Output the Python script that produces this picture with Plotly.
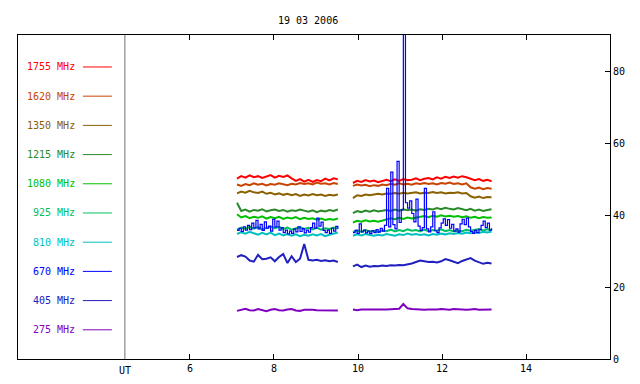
import plotly.graph_objects as go

# ---------------- data ----------------
title_text = "19 03 2006"
freqs = ["1755 MHz", "1620 MHz", "1350 MHz", "1215 MHz", "1080 MHz",
         "925 MHz", "810 MHz", "670 MHz", "405 MHz", "275 MHz"]
colors = ["#ff0000", "#c84400", "#8a6000", "#2a8a2a", "#00c000",
          "#00c060", "#00c0c0", "#0000ff", "#2020c0", "#8000c0"]

# time grids (UT hours)
seg1_start, seg2_start = 7.12, 9.88
step_coarse, step_fine = 0.1, 0.05

s1755_a = [50.2, 50.9, 50.5, 51.1, 50.6, 50.9, 50.4, 50.8, 51.2, 50.5, 51.0, 50.7, 51.1,
           50.3, 49.6, 50.1, 49.4, 49.9, 49.3, 49.8, 49.5, 50.2, 49.7, 50.3, 50.0]
s1755_b = [49.0, 49.6, 49.3, 49.8, 49.4, 49.7, 49.2, 49.6, 49.9, 49.5, 50.0, 49.6, 50.1,
           49.8, 49.9, 50.3, 49.8, 50.2, 50.4, 50.0, 50.6, 50.2, 50.7, 50.4, 50.8, 50.5,
           50.9, 50.6, 50.3, 49.8, 50.1, 49.6, 49.9, 49.5]

s1620_a = [48.6, 48.2, 48.7, 48.4, 48.9, 48.5, 48.8, 48.3, 48.7, 48.5, 48.9, 48.6, 48.4,
           48.8, 48.6, 49.0, 48.7, 48.9, 48.6, 49.1, 48.8, 48.9, 48.6, 49.0, 48.7]
s1620_b = [48.2, 48.6, 48.3, 48.5, 48.1, 48.4, 48.2, 48.6, 48.4, 48.8, 48.5, 48.9, 48.6,
           48.8, 48.5, 48.9, 48.7, 49.0, 48.7, 48.9, 48.6, 49.0, 48.8, 49.1, 48.7, 48.9,
           48.6, 48.9, 47.8, 47.4, 47.7, 47.3, 47.6, 47.4]

s1350_a = [46.1, 46.6, 46.3, 46.8, 46.4, 46.2, 46.6, 46.0, 46.3, 45.8, 46.1, 45.7, 46.0,
           45.6, 45.9, 45.4, 45.8, 45.5, 45.9, 45.6, 45.8, 45.4, 45.7, 45.5, 45.8]
s1350_b = [44.8, 45.6, 45.4, 45.8, 45.6, 45.9, 46.0, 45.8, 46.1, 46.0, 46.2, 46.0, 46.3,
           46.1, 46.2, 46.4, 46.1, 46.3, 46.2, 46.5, 46.2, 46.4, 46.1, 46.3, 46.2, 46.4,
           46.1, 46.2, 45.3, 44.9, 45.2, 44.8, 45.1, 45.0]

s1215_a = [43.5, 41.2, 41.6, 41.0, 41.5, 41.3, 41.7, 41.1, 41.4, 41.6, 41.2, 41.5, 41.0,
           41.4, 41.2, 41.6, 41.3, 41.0, 41.4, 40.9, 41.3, 41.1, 41.5, 41.2, 41.6]
s1215_b = [40.6, 41.2, 40.9, 41.3, 41.0, 41.4, 41.1, 41.3, 41.5, 41.2, 41.6, 41.3, 41.7,
           41.4, 41.6, 41.3, 41.7, 41.5, 41.8, 41.6, 42.0, 41.7, 42.1, 41.8, 41.6, 42.0,
           41.7, 41.4, 41.8, 41.3, 41.6, 41.2, 41.5, 41.7]

s1080_a = [40.3, 39.4, 39.8, 39.2, 39.6, 39.3, 39.7, 39.1, 39.5, 39.2, 39.6, 39.0, 39.4,
           39.1, 39.5, 38.9, 39.3, 39.0, 39.2, 38.8, 39.1, 38.7, 39.0, 38.8, 39.1]
s1080_b = [38.0, 38.5, 38.2, 38.6, 38.3, 38.5, 38.2, 38.6, 38.9, 39.2, 38.9, 39.3, 39.0,
           39.4, 39.1, 39.3, 39.6, 39.8, 39.5, 39.9, 39.6, 40.0, 39.7, 39.9, 39.6, 39.8,
           39.5, 39.7, 39.3, 39.6, 39.2, 39.5, 39.3, 39.4]

s925_a = [36.0, 36.6, 36.2, 36.8, 36.3, 36.7, 36.1, 36.5, 36.9, 36.4, 36.8, 36.2, 36.6,
          36.0, 36.4, 36.7, 36.2, 36.5, 36.1, 36.6, 36.0, 36.4, 36.2, 36.6, 36.3]
s925_b = [35.3, 35.8, 35.4, 35.9, 35.5, 35.7, 35.3, 35.8, 35.6, 36.0, 35.5, 35.9, 35.6,
          36.1, 35.7, 35.9, 35.5, 36.0, 35.6, 35.9, 35.7, 36.1, 35.6, 35.9, 35.5, 35.8,
          35.6, 36.0, 35.7, 35.9, 36.2, 35.8, 36.1, 35.9]

s810_a = [34.8, 35.3, 34.9, 35.4, 35.0, 34.6, 35.1, 34.7, 35.2, 34.5, 34.9, 34.4, 34.8,
          34.3, 34.7, 34.2, 34.6, 34.3, 34.7, 34.4, 34.8, 34.2, 34.6, 34.9, 35.2]
s810_b = [34.3, 34.7, 34.4, 34.8, 34.5, 34.3, 34.6, 34.4, 34.8, 34.5, 34.3, 34.7, 34.5,
          34.9, 34.6, 34.8, 34.5, 34.7, 34.4, 34.8, 34.6, 34.9, 34.7, 35.0, 34.8, 35.1,
          34.9, 35.2, 35.0, 35.3, 35.1, 35.4, 35.2, 35.5]

# 670 MHz on the fine grid (bursts)
s670_a = [35.8, 36.4, 35.5, 36.8, 35.9, 37.2, 36.0, 37.8, 36.5, 38.6, 36.2, 37.5, 35.8,
          38.2, 36.4, 37.0, 35.6, 38.9, 36.8, 38.4, 35.9, 36.6, 35.2, 35.9, 34.8, 35.6,
          35.0, 36.2, 35.4, 36.8, 35.5, 36.3, 35.1, 35.9, 35.3, 36.6, 37.8, 36.4, 39.2,
          37.0, 38.1, 35.8, 35.2, 35.9, 35.0, 36.4, 35.6, 36.9, 36.2]
s670_b = [35.2, 35.8, 35.0, 37.6, 35.4, 35.9, 35.1, 35.6, 34.9, 35.7, 35.2, 36.0, 35.3,
          36.4, 35.6, 37.2, 47.5, 36.8, 52.0, 37.4, 36.2, 55.0, 38.0, 41.5, 120.0, 43.5,
          42.0, 44.0, 40.5, 38.2, 44.5, 37.0, 35.8, 36.6, 47.5, 36.2, 35.4, 36.8, 41.0,
          35.7, 35.2, 36.5, 37.8, 39.0, 37.2, 38.8, 36.4, 37.5, 35.6, 36.2, 35.3, 37.6,
          38.9, 37.4, 39.2, 36.8, 35.5, 35.0, 35.8, 35.2, 36.0, 37.2, 38.4, 36.6, 37.8,
          35.9, 36.4]

s405_a = [28.4, 28.9, 28.5, 27.4, 27.1, 29.0, 27.8, 27.9, 28.3, 27.2, 28.4, 29.2, 26.7,
          28.6, 27.0, 27.9, 32.0, 27.6, 27.4, 27.6, 27.3, 27.5, 27.2, 27.4, 27.0]
s405_b = [25.8, 26.3, 25.6, 26.0, 25.7, 25.9, 25.8, 26.0, 25.9, 26.1, 26.0, 26.2, 26.1,
          26.3, 26.6, 27.0, 27.4, 27.2, 27.0, 27.1, 26.9, 27.2, 27.8, 27.5, 27.0, 26.7,
          27.3, 27.6, 28.1, 27.4, 26.9, 26.5, 26.8, 26.6]

s275_a = [13.4, 13.8, 14.0, 13.6, 13.5, 13.9, 13.6, 13.3, 13.7, 13.9, 13.6, 13.5, 13.8,
          13.9, 13.5, 13.4, 13.7, 13.8, 13.7, 13.6, 13.6, 13.7, 13.6, 13.6, 13.5]
s275_b = [13.8, 13.6, 13.8, 13.7, 13.8, 13.8, 13.7, 13.8, 13.8, 13.9, 13.8, 14.0, 15.3,
          14.1, 13.9, 13.8, 13.9, 13.7, 13.8, 13.7, 13.8, 13.9, 13.8, 13.7, 13.9, 13.8,
          13.6, 13.7, 13.8, 13.9, 13.7, 13.8, 13.7, 13.8]

series = [(s1755_a, s1755_b), (s1620_a, s1620_b), (s1350_a, s1350_b),
          (s1215_a, s1215_b), (s1080_a, s1080_b), (s925_a, s925_b),
          (s810_a, s810_b), (s670_a, s670_b), (s405_a, s405_b), (s275_a, s275_b)]

x_ticks = [6, 8, 10, 12, 14]
y_ticks = [0, 20, 40, 60, 80]
ut_line = 4.45

# ---------------- figure ----------------
FONT = "DejaVu Sans Mono"
fig = go.Figure()


def grid(start, step, n):
    return [round(start + step * i, 3) for i in range(n)]


for (a, b), c, name in zip(series, colors, freqs):
    fine = len(a) > 30
    st = step_fine if fine else step_coarse
    xs = grid(seg1_start, st, len(a)) + [None] + grid(seg2_start, st, len(b))
    ys = a + [None] + b
    line = (dict(color=c, width=1.2, shape="hv") if fine
            else dict(color=c, width=2, shape="linear"))
    fig.add_trace(go.Scatter(x=xs, y=ys, mode="lines", name=name, line=line,
                             connectgaps=False, showlegend=False))

shapes = [dict(type="line", xref="x", yref="paper", x0=ut_line, x1=ut_line,
               y0=0, y1=1, line=dict(color="#707070", width=1))]
annotations = []
for i, (name, c) in enumerate(zip(freqs, colors)):
    yv = 81.3 - 8.13 * i
    shapes.append(dict(type="line", xref="x", yref="y", x0=3.45, x1=4.14,
                       y0=yv, y1=yv, line=dict(color=c, width=1)))
    annotations.append(dict(x=3.31, y=yv, xref="x", yref="y", text=name,
                            showarrow=False, xanchor="right", yanchor="middle",
                            font=dict(family=FONT, size=10, color=c)))
annotations.append(dict(x=ut_line, y=0, xref="x", yref="paper", text="UT",
                        showarrow=False, xanchor="center", yanchor="top", yshift=-4,
                        font=dict(family=FONT, size=10, color="black")))

# the page body has an 8px default margin, so the figure is sized to fit it
fig.update_layout(
    width=632, height=376,
    margin=dict(l=10, r=30, t=27, b=25),
    paper_bgcolor="white", plot_bgcolor="white",
    title=dict(text=title_text, x=0.49, xref="paper", y=1 - 12 / 376,
               yanchor="middle", font=dict(family=FONT, size=10, color="black")),
    font=dict(family=FONT, size=10, color="black"),
    xaxis=dict(range=[1.905, 16.0], tickvals=x_ticks, ticks="inside", ticklen=5,
               tickcolor="black", showline=True, linecolor="black", linewidth=1,
               mirror="ticks", showgrid=False, zeroline=False,
               tickfont=dict(family=FONT, size=10, color="black")),
    yaxis=dict(range=[0, 90.2], tickvals=y_ticks, side="right", ticks="inside",
               ticklen=5, tickcolor="black", showline=True, linecolor="black",
               linewidth=1, mirror=True, showgrid=False, zeroline=False,
               tickfont=dict(family=FONT, size=10, color="black")),
    shapes=shapes, annotations=annotations,
)

fig.write_html("out.html")
